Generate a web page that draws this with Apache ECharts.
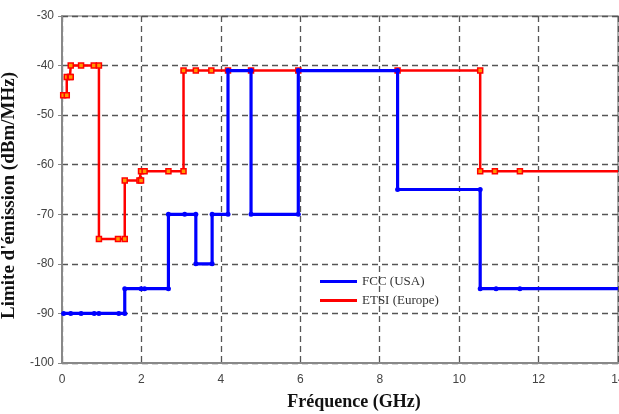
<!DOCTYPE html>
<html>
<head>
<meta charset="utf-8">
<script src="https://cdn.jsdelivr.net/npm/echarts@6/dist/echarts.min.js"></script>
<style>html,body{margin:0;padding:0;background:#fff}#c{width:619px;height:414px}</style>
</head>
<body>
<div id="c"></div>
<script>
// Tick settings
var xTicks = [0, 2, 4, 6, 8, 10, 12, 14];
var yTicks = [-100, -90, -80, -70, -60, -50, -40, -30];

// FCC (USA) step mask (GHz, dBm/MHz)
var fccFreq  = [0.04, 0.22, 0.48, 0.81, 0.93, 1.43, 1.58, 1.58, 1.99, 2.08, 2.68, 2.68, 3.09, 3.37, 3.37, 3.78, 3.78, 4.18, 4.18, 4.76, 4.76, 5.95, 5.95, 8.45, 8.45, 10.53, 10.53, 10.93, 11.53, 14];
var fccLevel = [-90, -90, -90, -90, -90, -90, -90, -85, -85, -85, -85, -70, -70, -70, -80, -80, -70, -70, -41, -41, -70, -70, -41, -41, -65, -65, -85, -85, -85, -85];

// ETSI (Europe) step mask
var etsiFreq  = [0.03, 0.12, 0.12, 0.2, 0.22, 0.22, 0.48, 0.8, 0.93, 0.93, 1.41, 1.58, 1.58, 1.95, 1.99, 1.99, 2.08, 2.68, 3.06, 3.06, 3.37, 3.76, 4.18, 4.76, 5.95, 8.45, 10.53, 10.53, 10.9, 11.53, 14];
var etsiLevel = [-46, -46, -42.3, -42.3, -42.3, -40, -40, -40, -40, -75, -75, -75, -63.2, -63.2, -63.2, -61.3, -61.3, -61.3, -61.3, -41, -41, -41, -41, -41, -41, -41, -41, -61.3, -61.3, -61.3, -61.3];

var seriesNames = ['FCC (USA)', 'ETSI (Europe)'];

function pairs(xs, ys) {
  return xs.map(function (x, i) {
    var item = { value: [x, ys[i]] };
    if (i === xs.length - 1) item.symbol = 'none';
    return item;
  });
}

var chart = echarts.init(document.getElementById('c'));
chart.setOption({
  animation: false,
  backgroundColor: '#fff',
  grid: { left: 62, right: 1, top: 16, bottom: 51, show: true, borderColor: '#999', borderWidth: 1.5, outerBoundsMode: 'none', containLabel: false },
  legend: {
    data: [
      { name: seriesNames[0], itemStyle: { color: '#0000ff', borderWidth: 0 } },
      { name: seriesNames[1], itemStyle: { color: '#ff0000', borderWidth: 0 } }
    ],
    orient: 'vertical',
    left: 315, top: 270,
    icon: 'rect', itemWidth: 37, itemHeight: 3, itemGap: 6,
    textStyle: { fontFamily: 'Liberation Serif', fontSize: 13, color: '#333', padding: [0, 0, 0, 0] }
  },
  xAxis: {
    type: 'value', min: xTicks[0], max: xTicks[xTicks.length - 1], interval: 2,
    name: 'Fréquence (GHz)', nameLocation: 'middle', nameGap: 30,
    nameTextStyle: { fontFamily: 'Liberation Serif', fontWeight: 'bold', fontSize: 18, color: '#111', padding: [0, 0, 0, 28] },
    axisLine: { lineStyle: { color: '#888', width: 2 } },
    axisTick: { show: false },
    axisLabel: { fontFamily: 'Liberation Sans', fontSize: 12, color: '#444', margin: 11 },
    splitLine: { show: true, lineStyle: { color: '#555', type: [6, 4], width: 1.3 } }
  },
  yAxis: {
    type: 'value', min: yTicks[0], max: yTicks[yTicks.length - 1], interval: 10,
    name: "Limite d'émission (dBm/MHz)", nameLocation: 'middle', nameGap: 43,
    nameTextStyle: { fontFamily: 'Liberation Serif', fontWeight: 'bold', fontSize: 19, color: '#111', padding: [0, 12, 0, 0] },
    axisLine: { show: true, lineStyle: { color: '#888', width: 2 } },
    axisTick: { show: true, length: 4, lineStyle: { color: '#888' } },
    axisLabel: { fontFamily: 'Liberation Sans', fontSize: 12, color: '#444', margin: 8 },
    splitLine: { show: true, lineStyle: { color: '#555', type: [6, 4], width: 1.3 } }
  },
  series: [
    {
      name: seriesNames[1], type: 'line', z: 2,
      data: pairs(etsiFreq, etsiLevel),
      symbol: 'rect', symbolSize: 5, showAllSymbol: true,
      lineStyle: { color: '#ff0000', width: 2.5 },
      itemStyle: { color: '#ff9900', borderColor: '#ff0000', borderWidth: 1.5 }
    },
    {
      name: seriesNames[0], type: 'line', z: 3,
      data: pairs(fccFreq, fccLevel),
      symbol: 'circle', symbolSize: 5, showAllSymbol: true,
      lineStyle: { color: '#0000ff', width: 3.2 },
      itemStyle: { color: '#0000ff', borderWidth: 0 }
    }
  ]
});
</script>
</body>
</html>
